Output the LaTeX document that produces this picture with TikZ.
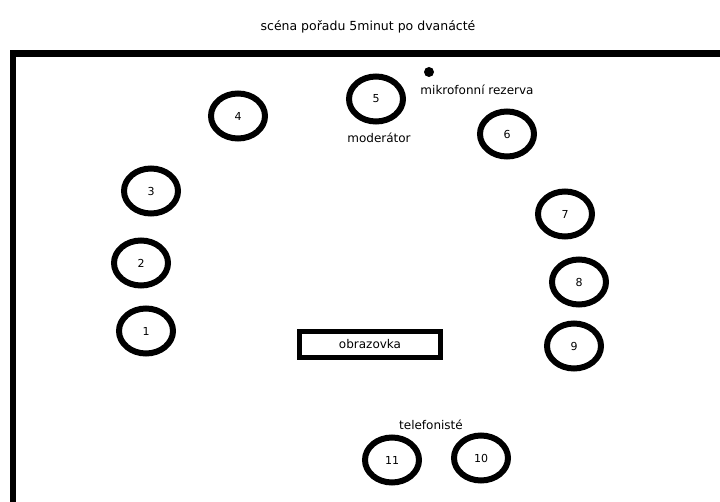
\documentclass[tikz,border=0pt]{standalone}
\usepackage{fontspec}
\setmainfont{DejaVu Sans}
\usetikzlibrary{shapes.geometric}
\begin{document}
\begin{tikzpicture}[x=1pt,y=-1pt,
  seat/.style={draw=black,line width=6pt,ellipse,minimum width=54pt,minimum height=45pt,inner sep=0pt,font=\fontsize{11}{13}\selectfont},
  lbl/.style={inner sep=0pt,font=\fontsize{12}{14}\selectfont},
  screen/.style={draw=black,line width=5pt,minimum width=141pt,minimum height=26pt,inner sep=0pt,font=\fontsize{12}{14}\selectfont}]
\useasboundingbox (0,0) rectangle (720,502);
\clip (0,0) rectangle (720,502);
\fill[white] (0,0) rectangle (720,502);
\node[lbl,font=\fontsize{12.5}{14}\selectfont] (title) at (368,27) {scéna pořadu 5minut po dvanácté};
\draw[line width=6.5pt] (13,53.5) rectangle (740,530);
\node[seat] (s1) at (146,331) {1};
\node[seat] (s2) at (141,263) {2};
\node[seat] (s3) at (151,191) {3};
\node[seat] (s4) at (238,116) {4};
\node[seat] (s5) at (376,99) {5};
\node[seat] (s6) at (507,134) {6};
\node[seat] (s7) at (565,214) {7};
\node[seat] (s8) at (579,282) {8};
\node[seat] (s9) at (574,346) {9};
\node[seat] (s10) at (481,458) {10};
\node[seat] (s11) at (392,460) {11};
\fill (429,72) circle (5pt);
\node[lbl] (mic) at (477,90) {mikrofonní rezerva};
\node[lbl] (mod) at (379,138) {moderátor};
\node[lbl] (tel) at (431,425) {telefonisté};
\node[screen] (scr) at (370,344.5) {obrazovka};
\end{tikzpicture}
\end{document}
